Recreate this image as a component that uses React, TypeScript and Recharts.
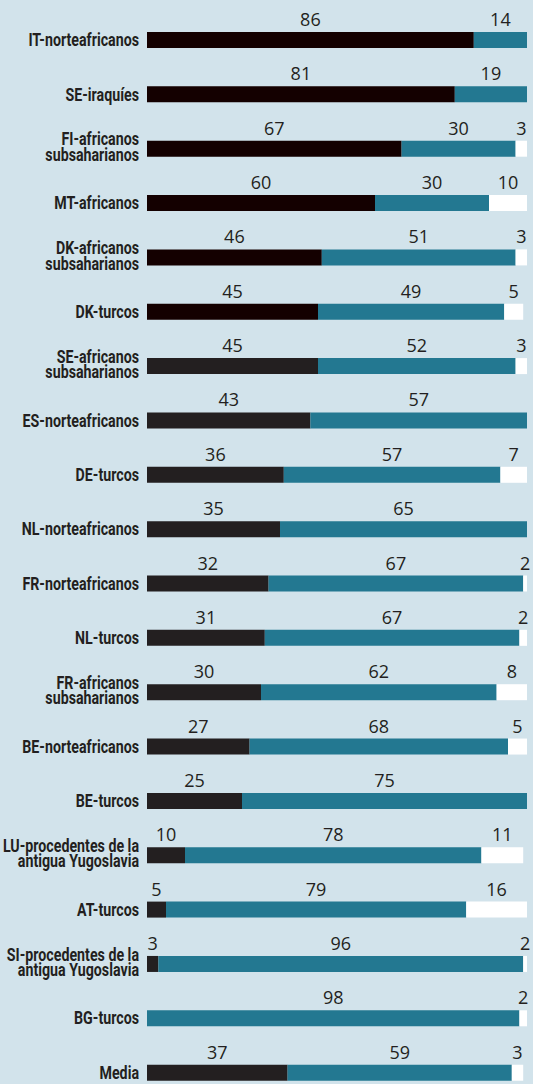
import { BarChart, Bar, XAxis, YAxis, Cell, LabelList } from 'recharts'

// groups, top to bottom (\n = line break in the label)
const groups = [
  'IT-norteafricanos',
  'SE-iraquíes',
  'FI-africanos\nsubsaharianos',
  'MT-africanos',
  'DK-africanos\nsubsaharianos',
  'DK-turcos',
  'SE-africanos\nsubsaharianos',
  'ES-norteafricanos',
  'DE-turcos',
  'NL-norteafricanos',
  'FR-norteafricanos',
  'NL-turcos',
  'FR-africanos\nsubsaharianos',
  'BE-norteafricanos',
  'BE-turcos',
  'LU-procedentes de la\nantigua Yugoslavia',
  'AT-turcos',
  'SI-procedentes de la\nantigua Yugoslavia',
  'BG-turcos',
  'Media',
]
const darkPart = [86, 81, 67, 60, 46, 45, 45, 43, 36, 35, 32, 31, 30, 27, 25, 10, 5, 3, 0, 37]
const tealPart = [14, 19, 30, 30, 51, 49, 52, 57, 57, 65, 67, 67, 62, 68, 75, 78, 79, 96, 98, 59]
const whitePart = [0, 0, 3, 10, 3, 5, 3, 0, 7, 0, 2, 2, 8, 5, 0, 11, 16, 2, 2, 3]

const BG = '#d2e3eb'
const INK = '#231f20'
const DARKEST = '#140000' // first rows are printed in a near-black maroon
const TEAL = '#237891'

const data = groups.map((name, i) => ({
  name,
  dark: darkPart[i],
  teal: tealPart[i],
  white: whitePart[i],
}))

// no condensed face installed, so squeeze Roboto Bold horizontally
function GroupTick({ x, y, payload }: any) {
  const lines = String(payload.value).split('\n')
  const offsets = lines.length > 1 ? [-3.5, 12] : [6]
  return (
    <g transform={`translate(${x},0) scale(0.79,1)`}>
      <text
        textAnchor="end"
        fill={INK}
        fontSize={18}
        fontWeight="bold"
        fontFamily="Roboto, sans-serif"
      >
        {lines.map((l, i) => (
          <tspan key={i} x={0} y={y + offsets[i]}>{l}</tspan>
        ))}
      </text>
    </g>
  )
}

function ValueLabel({ x, y, width, value }: any) {
  if (!value) return null
  return (
    <text
      x={x + width / 2}
      y={y - 6}
      textAnchor="middle"
      fill={INK}
      fontSize={18}
      fontFamily="'Open Sans', sans-serif"
    >
      {value}
    </text>
  )
}

export default function App() {
  return (
    <div style={{ position: 'absolute', left: 0, top: 0, width: 533, height: 1084, overflow: 'hidden', background: BG }}>
      <BarChart
        width={533}
        height={1100}
        data={data}
        layout="vertical"
        margin={{ top: 13, right: 6, left: 0, bottom: 0 }}
        barSize={16}
      >
        <XAxis type="number" domain={[0, 100]} allowDataOverflow hide />
        <YAxis
          type="category"
          dataKey="name"
          width={147}
          tickLine={false}
          axisLine={false}
          tickSize={0}
          tickMargin={8}
          interval={0}
          tick={<GroupTick />}
        />
        <Bar dataKey="dark" stackId="a" fill={INK} isAnimationActive={false}>
          {data.map((_, i) => (
            <Cell key={i} fill={i < 6 ? DARKEST : INK} />
          ))}
          <LabelList dataKey="dark" content={<ValueLabel />} />
        </Bar>
        <Bar dataKey="teal" stackId="a" fill={TEAL} isAnimationActive={false}>
          <LabelList dataKey="teal" content={<ValueLabel />} />
        </Bar>
        <Bar dataKey="white" stackId="a" fill="#ffffff" isAnimationActive={false}>
          <LabelList dataKey="white" content={<ValueLabel />} />
        </Bar>
      </BarChart>
    </div>
  )
}
